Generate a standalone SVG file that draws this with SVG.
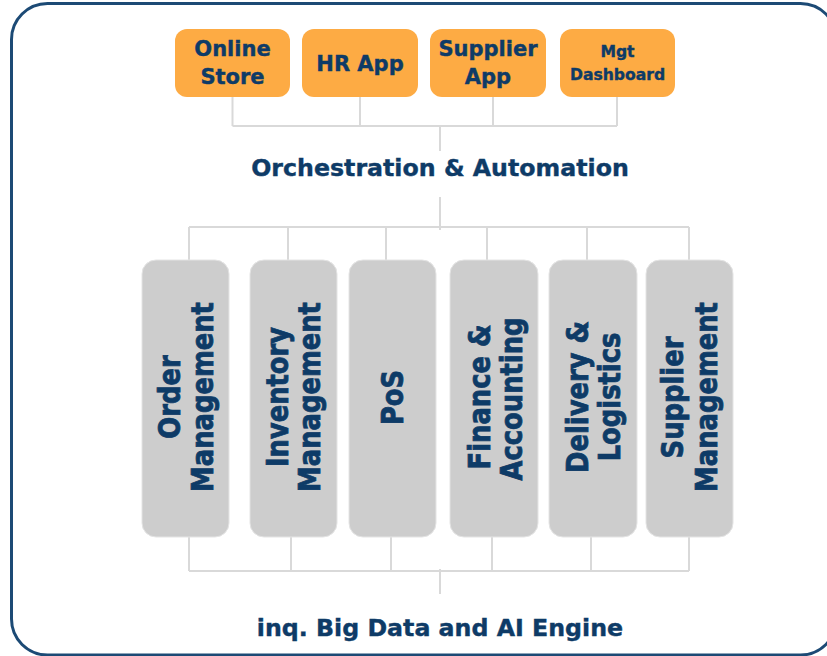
<svg xmlns="http://www.w3.org/2000/svg" width="827" height="656" viewBox="0 0 827 656">
  <style>
    .frame { fill: #ffffff; stroke: #1c4a75; stroke-width: 3; }
    .app { fill: #fdab44; }
    .mod { fill: #cdcdcd; stroke: #e4e4e4; stroke-width: 1; }
    .conn { fill: none; stroke: #d9d9d9; stroke-width: 2; }
    .t { font-family: "DejaVu Sans", Verdana, sans-serif; font-weight: bold; fill: #0e3b67; stroke: #0e3b67; stroke-width: 0.4; text-anchor: middle; }
    .app-t { font-size: 21px; }
    .small-t { font-size: 15.6px; }
    .title-t { font-size: 23.7px; }
    .v-t { font-size: 29.5px; stroke-width: 0.8; }
  </style>
  <rect class="frame" x="11.5" y="3.5" width="825" height="651.5" rx="36" ry="36"/>

  <g id="connectors">
    <path class="conn" d="M232.5 97 V126 M360 97 V126 M493 97 V126 M617 97 V126 M232.5 126 H617 M440 126 V151"/>
    <path class="conn" d="M440 197 V230 M189 227 H689 M189 227 V260 M288 227 V260 M386 227 V260 M487 227 V260 M587 227 V260 M689 227 V260"/>
    <path class="conn" d="M189 537 V571 M291 537 V571 M391 537 V571 M492 537 V571 M591 537 V571 M689 537 V571 M189 571 H689 M440 569 V594"/>
  </g>

  <g id="online-store">
    <rect class="app" x="175" y="29" width="115" height="68" rx="12"/>
    <text class="t app-t" x="232.5" y="56">Online</text>
    <text class="t app-t" x="232.5" y="84">Store</text>
  </g>
  <g id="hr-app">
    <rect class="app" x="302" y="29" width="116" height="68" rx="12"/>
    <text class="t app-t" x="360" y="70.5">HR App</text>
  </g>
  <g id="supplier-app">
    <rect class="app" x="430" y="29" width="116" height="68" rx="12"/>
    <text class="t app-t" x="488" y="56">Supplier</text>
    <text class="t app-t" x="488" y="84">App</text>
  </g>
  <g id="mgt-dashboard">
    <rect class="app" x="560" y="29" width="115" height="68" rx="12"/>
    <text class="t small-t" x="617.5" y="57">Mgt</text>
    <text class="t small-t" x="617.5" y="80">Dashboard</text>
  </g>

  <g id="orchestration">
    <text class="t title-t" x="440" y="176">Orchestration &amp; Automation</text>
  </g>

  <g id="order-management">
    <rect class="mod" x="142" y="260" width="87" height="277" rx="14"/>
    <text class="t v-t" transform="translate(180 397) rotate(-90) scale(0.875 1)">Order</text>
    <text class="t v-t" transform="translate(212.5 397) rotate(-90) scale(0.875 1)">Management</text>
  </g>
  <g id="inventory-management">
    <rect class="mod" x="250" y="260" width="87" height="277" rx="14"/>
    <text class="t v-t" transform="translate(288.3 397) rotate(-90) scale(0.875 1)">Inventory</text>
    <text class="t v-t" transform="translate(320 397) rotate(-90) scale(0.875 1)">Management</text>
  </g>
  <g id="pos">
    <rect class="mod" x="349" y="260" width="87" height="277" rx="14"/>
    <text class="t v-t" transform="translate(403.3 397.5) rotate(-90) scale(0.875 1)">PoS</text>
  </g>
  <g id="finance-accounting">
    <rect class="mod" x="450" y="260" width="88" height="277" rx="14"/>
    <text class="t v-t" transform="translate(490 397) rotate(-90) scale(0.875 1)">Finance &amp;</text>
    <text class="t v-t" transform="translate(521.7 399) rotate(-90) scale(0.875 1)">Accounting</text>
  </g>
  <g id="delivery-logistics">
    <rect class="mod" x="549" y="260" width="88" height="277" rx="14"/>
    <text class="t v-t" transform="translate(588.3 397) rotate(-90) scale(0.875 1)">Delivery &amp;</text>
    <text class="t v-t" transform="translate(620 397) rotate(-90) scale(0.875 1)">Logistics</text>
  </g>
  <g id="supplier-management">
    <rect class="mod" x="646" y="260" width="87" height="277" rx="14"/>
    <text class="t v-t" transform="translate(683.3 397.5) rotate(-90) scale(0.875 1)">Supplier</text>
    <text class="t v-t" transform="translate(716.7 397) rotate(-90) scale(0.875 1)">Management</text>
  </g>

  <g id="big-data-engine">
    <text class="t title-t" x="440" y="636">inq. Big Data and AI Engine</text>
  </g>
</svg>
